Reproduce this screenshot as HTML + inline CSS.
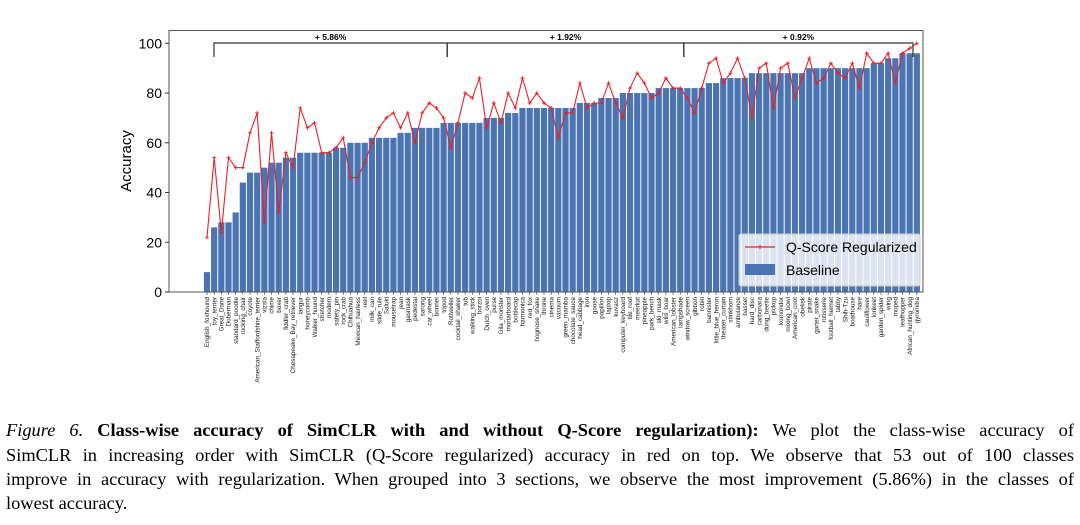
<!DOCTYPE html>
<html><head><meta charset="utf-8"><style>
body{margin:0;background:#fff;width:1080px;height:525px;overflow:hidden}
.cap{position:absolute;left:6px;width:1068px;font-family:"Liberation Serif",serif;font-size:18.4px;color:#000;text-align:justify;text-align-last:justify;white-space:nowrap}
</style></head><body>
<svg id="chart" width="1080" height="400" style="position:absolute;left:0;top:0" font-family="Liberation Sans, DejaVu Sans, sans-serif"></svg>
<div class="cap" style="top:420px"><i>Figure 6.</i> <b>Class-wise accuracy of SimCLR with and without Q-Score regularization):</b> We plot the class-wise accuracy of</div>
<div class="cap" style="top:445px">SimCLR in increasing order with SimCLR (Q-Score regularized) accuracy in red on top. We observe that 53 out of 100 classes</div>
<div class="cap" style="top:469px">improve in accuracy with regularization. When grouped into 3 sections, we observe the most improvement (5.86%) in the classes of</div>
<div class="cap" style="top:493px;text-align-last:left">lowest accuracy.</div>
<script>
const categories=["English_foxhound","toy_terrier","Great_Dane","Doberman","standard_poodle","rocking_chair","coyote","American_Staffordshire_terrier","vizsla","chime","boxer","fiddler_crab","Chesapeake_Bay_retriever","langur","honeycomb","Walker_hound","stretcher","modem","safety_pin","rock_crab","Chihuahua","Mexican_hairless","reel","milk_can","slide_rule","Saluki","mousetrap","jean","gasmask","pedestal","sarong","car_wheel","bonnet","tripod","Rottweiler","cocktail_shaker","tub","walking_stick","borzoi","Dutch_oven","purse","Gila_monster","mortarboard","bottlecap","harmonica","red_fox","hognose_snake","throne","cinema","vacuum","green_mamba","chocolate_sauce","head_cabbage","iron","goose","papillon","laptop","kuvasz","computer_keyboard","tile_roof","meerkat","pineapple","park_bench","ski_mask","wild_boar","American_lobster","lampshade","window_screen","gibbon","robin","bannister","little_blue_heron","theater_curtain","stinkhorn","ambulance","basset","hard_disc","carbonara","dung_beetle","pickup","komondor","mixing_bowl","American_coot","obelisk","pirate","garter_snake","rotisserie","football_helmet","tabby","Shih-Tzu","boathouse","hare","cauliflower","lorikeet","garden_spider","wing","moped","leafhopper","African_hunting_dog","gyromitra"];
const baseline=[8,26,28,28,32,44,48,48,50,52,52,54,54,56,56,56,56,56,58,58,60,60,60,62,62,62,62,64,64,66,66,66,66,68,68,68,68,68,68,70,70,70,72,72,74,74,74,74,74,74,74,74,76,76,76,78,78,78,80,80,80,80,80,82,82,82,82,82,82,82,84,84,86,86,86,86,88,88,88,88,88,88,88,88,90,90,90,90,90,90,90,90,90,92,92,94,94,96,96,96];
const regularized=[22,54,24,54,50,50,64,72,28,64,32,56,50,74,66,68,56,56,58,62,46,46,52,60,66,70,72,66,72,60,72,76,74,70,58,68,80,78,86,66,76,68,80,74,86,76,80,76,74,62,72,72,84,74,76,76,84,76,70,82,88,84,78,80,86,82,82,78,72,82,92,94,84,88,94,86,70,90,92,74,90,92,78,86,94,84,86,92,88,86,92,82,96,92,92,96,84,96,98,100];
const yTicks=[0,20,40,60,80,100];
const groupLabels=["+ 5.86%","+ 1.92%","+ 0.92%"];
const groupBounds=[0,33,66,99];

const svg=document.getElementById('chart');
const NS='http://www.w3.org/2000/svg';
const X0=207,PITCH=7.17,Y0=292,YS=2.487;
const xs=i=>X0+PITCH*i;
const ys=v=>Y0-v*YS;
function mk(tag,attrs,parent){const e=document.createElementNS(NS,tag);for(const k in attrs)e.setAttribute(k,attrs[k]);(parent||svg).appendChild(e);return e;}

const bars=mk('g',{});


baseline.forEach((v,i)=>{
  const r=mk('rect',{x:xs(i)-3.1,y:ys(v),width:6.2,height:v*YS,fill:'#4a74b2'},bars);
  
  
});
const frame=mk('rect',{x:169,y:30.5,width:754,height:261.5,fill:'none',stroke:'#555','stroke-width':1});


yTicks.forEach(t=>{
  mk('line',{x1:165,x2:169,y1:ys(t),y2:ys(t),stroke:'#333'});
  const tx=mk('text',{x:162,y:ys(t)+5,'text-anchor':'end','font-size':14,fill:'#000'});
  tx.textContent=t;
  
  
});
const yt=mk('text',{transform:'translate(131,161) rotate(-90)','text-anchor':'middle','font-size':15,fill:'#000'});
yt.textContent='Accuracy';


categories.forEach((c,i)=>{
  mk('line',{x1:xs(i),x2:xs(i),y1:292,y2:295,stroke:'#333','stroke-width':0.6});
  const t=mk('text',{transform:`translate(${xs(i)+2.2},297) rotate(-90)`,'text-anchor':'end','font-size':6.3,fill:'#222'});
  t.textContent=c;
  
  
});
const pts=regularized.map((v,i)=>xs(i)+','+ys(v)).join(' ');
const pl=mk('polyline',{points:pts,fill:'none',stroke:'#e8202a','stroke-width':1.1});


regularized.forEach((v,i)=>{
  const m=mk('path',{d:`M${xs(i)-2},${ys(v)}h4M${xs(i)},${ys(v)-2}v4`,stroke:'#e8202a','stroke-width':0.9});
  
  
});
groupLabels.forEach((g,k)=>{
  const a=xs(groupBounds[k])+7,b=xs(groupBounds[k+1]);
  const x1=k===0?214:a-7+PITCH/2, x2=k===2?913:b+PITCH/2;
  const br=mk('path',{d:`M${x1},57V43H${x2}V57`,fill:'none',stroke:'#333','stroke-width':1.2});
  
  
  const t=mk('text',{x:(x1+x2)/2,y:40,'text-anchor':'middle','font-size':8.5,'font-weight':'bold',fill:'#000'});
  t.textContent=g;
  
  
});
const lg=mk('g',{});


mk('rect',{x:739,y:234,width:181,height:52,fill:'#fff','fill-opacity':0.8,stroke:'#ccc',rx:2},lg);
mk('line',{x1:745,x2:775,y1:247,y2:247,stroke:'#e8202a','stroke-width':1.2},lg);
mk('path',{d:'M758,247h4M760,245v4',stroke:'#e8202a'},lg);
const l1=mk('text',{x:786,y:252,'font-size':14,fill:'#000'},lg);l1.textContent='Q-Score Regularized';


mk('rect',{x:745,y:264,width:30,height:11,fill:'#4a74b2'},lg);
const l2=mk('text',{x:786,y:275,'font-size':14,fill:'#000'},lg);l2.textContent='Baseline';


</script>
</body></html>
